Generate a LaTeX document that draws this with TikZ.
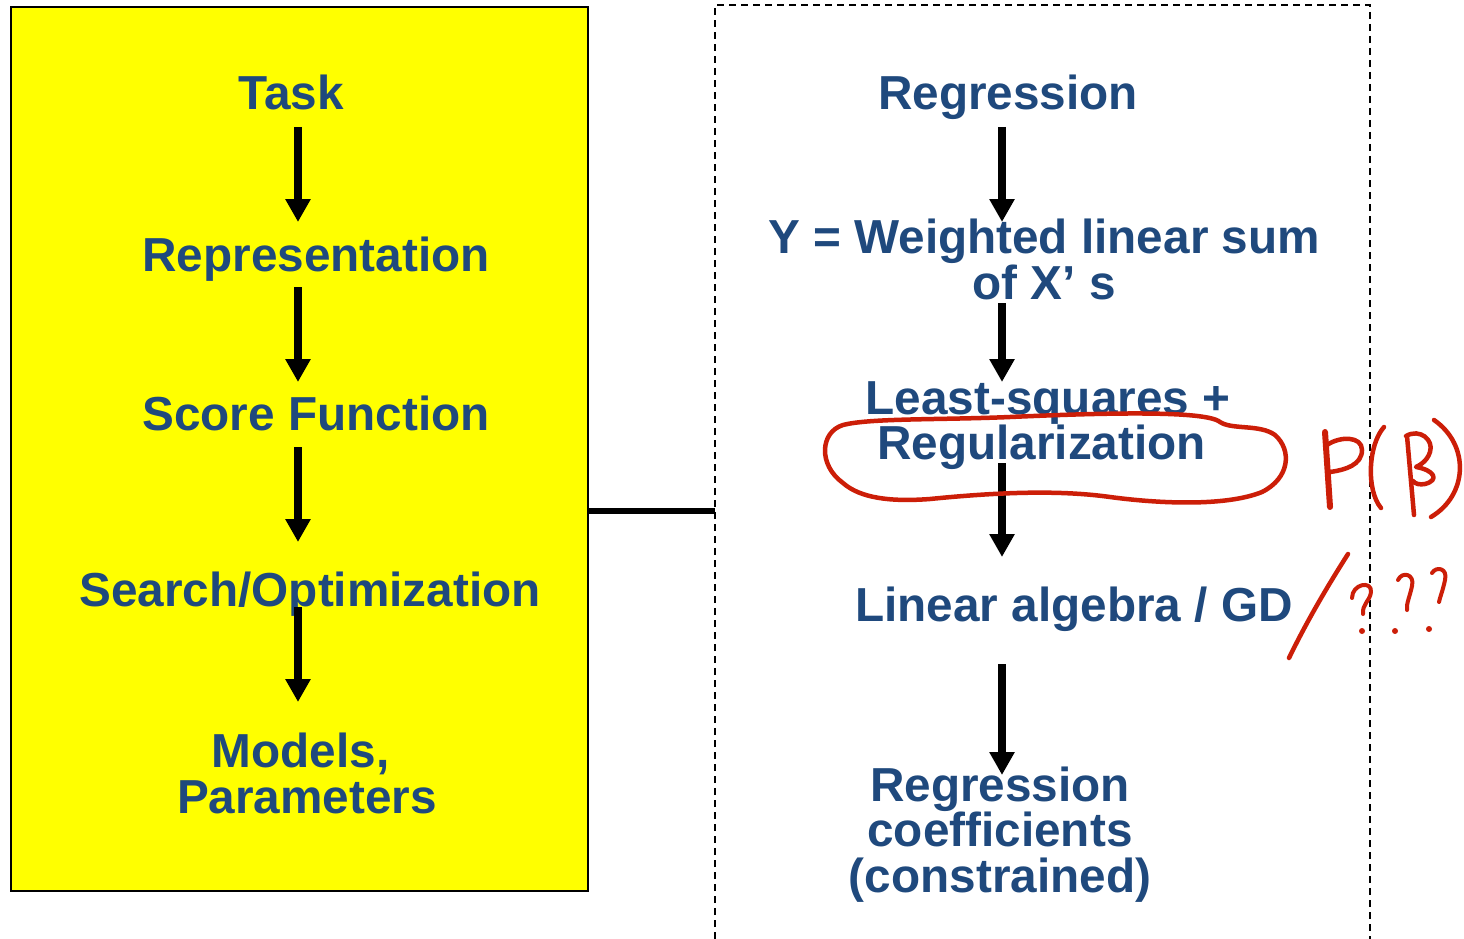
\documentclass[tikz,border=0pt]{standalone}
\usepackage{fontspec}
\setmainfont{Liberation Sans}
\usetikzlibrary{arrows.meta}
\definecolor{txtblue}{RGB}{31,73,125}
\definecolor{ybg}{RGB}{255,255,0}
\definecolor{pen}{RGB}{204,30,8}
\tikzset{
  lbl/.style={font=\fontsize{47.7}{45.5}\selectfont\bfseries, text=txtblue, inner sep=0pt, anchor=base, align=center},
  flow/.style={line width=7.5pt, -{Triangle[width=24pt,length=23pt]}},
  ink/.style={draw=pen, line width=4.5pt, line cap=round, line join=round},
  frame/.style={line width=1.5pt, dash pattern=on 7pt off 5pt}
}
\begin{document}
\begin{tikzpicture}[x=1pt,y=-1pt]
\useasboundingbox (0,0) rectangle (1464,939);
\fill[white] (0,0) rectangle (1464,939);
% yellow panel
\node[draw=black, line width=2pt, fill=ybg, minimum width=577pt, minimum height=884pt, inner sep=0pt, anchor=north west] (ybox) at (10,6) {};
% dashed frame
\coordinate (fbl) at (715,939);
\coordinate (ftl) at (715,5);
\coordinate (ftr) at (1370,5);
\coordinate (fbr) at (1370,939);
\draw[frame] (fbl) -- (ftl) -- (ftr) -- (fbr);
% connector between panels
\coordinate (cl) at (587,511);
\coordinate (cr) at (715,511);
\draw[line width=6pt] (cl) -- (cr);

% left column
\node[lbl] (task) at (291,110) {Task};
\node[lbl] (rep) at (316,271) {Representation};
\node[lbl] (score) at (316,430) {Score Function};
\node[lbl] (search) at (310,606) {Search/Optimization};
\node[lbl] (models) at (307,813) {Models,\kern13pt\\Parameters};

\coordinate (l1a) at (298,127); \coordinate (l1b) at (298,222);
\coordinate (l2a) at (298,287); \coordinate (l2b) at (298,382);
\coordinate (l3a) at (298,447); \coordinate (l3b) at (298,542);
\coordinate (l4a) at (298,607); \coordinate (l4b) at (298,702);
\draw[flow] (l1a) -- (l1b);
\draw[flow] (l2a) -- (l2b);
\draw[flow] (l3a) -- (l3b);
\draw[flow] (l4a) -- (l4b);

% right column
\node[lbl] (regr) at (1008,110) {Regression};
\node[lbl] (wsum) at (1044,299) {Y = Weighted linear sum\\of X’ s};
\node[lbl] (ls) at (1048,459.5) {Least-squares +\\Regularization\kern13pt};
\node[lbl] (lin) at (1074,621) {Linear algebra / GD};
\node[lbl] (coef) at (1000,892) {Regression\\coefficients\\(constrained)};

\coordinate (r1a) at (1002,127); \coordinate (r1b) at (1002,222);
\coordinate (r2a) at (1002,303); \coordinate (r2b) at (1002,382);
\coordinate (r3a) at (1002,463); \coordinate (r3b) at (1002,557);
\coordinate (r4a) at (1002,664); \coordinate (r4b) at (1002,775);
\draw[flow] (r1a) -- (r1b);
\draw[flow] (r2a) -- (r2b);
\draw[flow] (r3a) -- (r3b);
\draw[flow] (r4a) -- (r4b);

% handwritten annotations
\draw[ink] (1220,422) .. controls (1205,410) and (1100,413) .. (1010,417)
  .. controls (940,420) and (870,418) .. (843,425)
  .. controls (820,432) and (818,465) .. (843,483)
  .. controls (860,498) and (890,502) .. (930,499)
  .. controls (1000,492) and (1060,490) .. (1110,497)
  .. controls (1170,505) and (1230,505) .. (1262,492)
  .. controls (1290,478) and (1292,450) .. (1275,435)
  .. controls (1260,424) and (1232,430) .. (1220,422);
% P
\draw[ink, line width=6pt] (1325,432) -- (1330,507);
\draw[ink] (1327,445) .. controls (1340,436) and (1362,436) .. (1362,450)
  .. controls (1362,465) and (1345,470) .. (1330,472);
% (
\draw[ink] (1384,427) .. controls (1368,445) and (1366,490) .. (1381,508);
% beta
\draw[ink] (1407,436) -- (1414,515);
\draw[ink] (1406,436) .. controls (1420,428) and (1434,440) .. (1430,452)
  .. controls (1427,462) and (1418,466) .. (1416,467)
  .. controls (1434,470) and (1440,480) .. (1425,484)
  .. controls (1420,485) and (1415,484) .. (1413,481);
% )
\draw[ink] (1434,420) .. controls (1470,445) and (1468,495) .. (1431,517);
% slash
\draw[ink] (1348,554) .. controls (1325,590) and (1305,625) .. (1289,658);
% question marks
\draw[ink, line width=4pt] (1352,598) .. controls (1352,584) and (1372,580) .. (1371,592)
  .. controls (1370,601) and (1362,604) .. (1363,614);
\fill[pen] (1362,631) circle (3pt);
\draw[ink, line width=4pt] (1398,580) .. controls (1402,571) and (1415,574) .. (1412,586)
  .. controls (1410,596) and (1406,604) .. (1407,610);
\fill[pen] (1395,631) circle (3pt);
\draw[ink, line width=4pt] (1432,573) .. controls (1436,566) and (1448,568) .. (1445,580)
  .. controls (1443,590) and (1440,597) .. (1439,602);
\fill[pen] (1429,629) circle (3pt);
\end{tikzpicture}
\end{document}
